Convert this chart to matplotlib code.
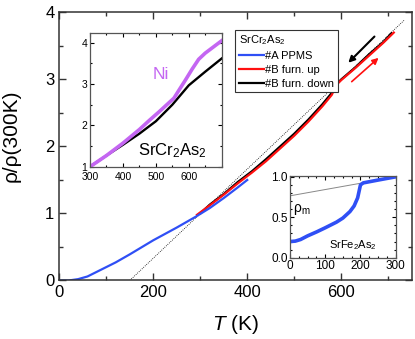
import numpy as np
import matplotlib
matplotlib.use('Agg')
import matplotlib.pyplot as plt
from matplotlib.ticker import MultipleLocator

plt.rcParams['font.family'] = ['Liberation Sans', 'DejaVu Sans']
plt.rcParams['mathtext.fontset'] = 'custom'
plt.rcParams['mathtext.rm'] = 'Liberation Sans'
plt.rcParams['mathtext.it'] = 'Liberation Sans:italic'
plt.rcParams['xtick.direction'] = 'in'
plt.rcParams['ytick.direction'] = 'in'

# main panel: rho/rho(300K) vs T
T_ppms = [0, 20, 40, 60, 80, 100, 120, 150, 200, 250, 290, 320, 350, 380, 400]
r_ppms = [0, 0.0, 0.02, 0.06, 0.13, 0.2, 0.27, 0.39, 0.6, 0.79, 0.95, 1.08, 1.23, 1.39, 1.5]

T_up = [293, 320, 350, 380, 410, 440, 470, 500, 530, 560, 580, 590, 600, 630, 660, 690, 712]
r_up = [0.98, 1.12, 1.28, 1.45, 1.61, 1.78, 1.97, 2.16, 2.37, 2.6, 2.77, 2.92, 2.99, 3.17, 3.36, 3.55, 3.7]

T_down = [300, 320, 350, 380, 410, 440, 470, 500, 530, 560, 580, 590, 600, 630, 660, 690, 707]
r_down = [1.0, 1.13, 1.29, 1.47, 1.63, 1.81, 2.0, 2.19, 2.4, 2.63, 2.8, 2.93, 3.0, 3.18, 3.38, 3.56, 3.69]

T_fit = [150, 735]
r_fit = [0, 3.89]

# inset: Ni vs SrCr2As2
T_ni = [300, 350, 400, 450, 480, 510, 540, 555, 570, 590, 610, 630, 650, 670, 700]
r_ni = [1.0, 1.27, 1.57, 1.9, 2.12, 2.33, 2.55, 2.66, 2.85, 3.1, 3.36, 3.6, 3.75, 3.87, 4.05]
T_cr = [300, 350, 400, 450, 500, 550, 600, 650, 700]
r_cr = [1.0, 1.27, 1.53, 1.8, 2.1, 2.5, 2.97, 3.3, 3.62]

# inset: SrFe2As2
T_fe = [0, 15, 30, 50, 76, 100, 132, 150, 170, 182, 192, 200, 208, 250, 300]
r_fe = [0.2, 0.205, 0.225, 0.27, 0.32, 0.37, 0.44, 0.49, 0.57, 0.64, 0.74, 0.9, 0.925, 0.96, 1.0]
T_fe_lin = [0, 300]
r_fe_lin = [0.765, 0.998]

fig = plt.figure(figsize=(4.15, 3.39), dpi=100)
ax = fig.add_axes([0.1429, 0.1726, 0.849, 0.7906])

ax.plot(T_fit, r_fit, color='black', lw=0.6, ls=(0, (1, 1.5)))
l_down, = ax.plot(T_down, r_down, color='black', lw=1.6, label='#B furn. down')
l_up, = ax.plot(T_up, r_up, color='#FF1010', lw=1.6, label='#B furn. up')
l_a, = ax.plot(T_ppms, r_ppms, color='#2F4FF5', lw=1.6, label='#A PPMS')

ax.annotate('', xy=(611, 3.22), xytext=(675, 3.67),
            arrowprops=dict(arrowstyle='-|>', color='black', lw=1.5, mutation_scale=9))
ax.annotate('', xy=(684, 3.35), xytext=(618, 2.94),
            arrowprops=dict(arrowstyle='-|>', color='#FF1010', lw=1.2, mutation_scale=9))

ax.set_xlim(0, 750)
ax.set_ylim(0, 4)
ax.xaxis.set_major_locator(MultipleLocator(200))
ax.xaxis.set_minor_locator(MultipleLocator(100))
ax.yaxis.set_major_locator(MultipleLocator(1))
ax.yaxis.set_minor_locator(MultipleLocator(0.5))
ax.tick_params(which='both', top=True, right=True, labelsize=12, width=1, color='#333333')
ax.tick_params(which='major', length=5)
ax.tick_params(which='minor', length=3)
for s in ax.spines.values():
    s.set_linewidth(1.1)
    s.set_color('#333333')
ax.set_xlabel('$T$ (K)', fontsize=15, labelpad=9)
ax.set_ylabel('ρ/ρ(300K)', fontsize=15)
ax.yaxis.set_label_coords(-0.11, 0.54)

leg = ax.legend(handles=[l_a, l_up, l_down], title='SrCr$_2$As$_2$', loc='upper left',
                bbox_to_anchor=(0.5, 0.935), fontsize=8, title_fontsize=8,
                frameon=True, fancybox=False, edgecolor='#333333', framealpha=1,
                borderpad=0.3, handlelength=2.3, handletextpad=0.1,
                labelspacing=0.35, borderaxespad=0)
leg._legend_box.align = 'left'
leg.get_frame().set_linewidth(0.8)

# inset 1
ax1 = fig.add_axes([0.2169, 0.5083, 0.3173, 0.3935])
ax1.plot(T_cr, r_cr, color='black', lw=1.7)
ax1.plot(T_ni, r_ni, color='#C466F2', lw=2.6)
ax1.text(516, 3.24, 'Ni', color='#C466F2', fontsize=12.5, ha='center', va='center')
ax1.text(446, 1.28, 'SrCr$_2$As$_2$', color='black', fontsize=12, ha='left', va='baseline')
ax1.set_xlim(300, 700)
ax1.set_ylim(1, 4.23)
ax1.set_xticks([300, 400, 500, 600])
ax1.set_yticks([1, 2, 3, 4])
ax1.xaxis.set_minor_locator(MultipleLocator(50))
ax1.yaxis.set_minor_locator(MultipleLocator(0.5))
ax1.tick_params(which='both', top=True, right=True, labelsize=7.5, width=0.8)
ax1.tick_params(axis='x', pad=3.5)
ax1.tick_params(axis='y', pad=2)
ax1.tick_params(which='major', length=3)
ax1.tick_params(which='minor', length=1.5)
for s in ax1.spines.values():
    s.set_linewidth(0.9)
    s.set_color('#555555')

# inset 2
ax2 = fig.add_axes([0.6988, 0.2398, 0.2547, 0.241])
ax2.plot(T_fe_lin, r_fe_lin, color='#888888', lw=0.7)
ax2.plot(T_fe, r_fe, color='#2F4FF5', lw=2.6)
ax2.text(8, 0.59, 'ρ$_\\mathrm{m}$', fontsize=10, ha='left', va='center')
ax2.text(180, 0.15, 'SrFe$_2$As$_2$', fontsize=8, ha='center', va='center')
ax2.set_xlim(0, 300)
ax2.set_ylim(0, 1.01)
ax2.set_xticks([0, 100, 200, 300])
ax2.set_yticks([0, 0.5, 1.0])
ax2.set_yticklabels(['0.0', '0.5', '1.0'])
ax2.xaxis.set_minor_locator(MultipleLocator(25))
ax2.yaxis.set_minor_locator(MultipleLocator(0.1))
ax2.tick_params(which='both', top=True, right=True, labelsize=8.5, width=0.8, pad=1.5)
ax2.tick_params(which='major', length=3)
ax2.tick_params(which='minor', length=1.5)
for s in ax2.spines.values():
    s.set_linewidth(0.9)
    s.set_color('#555555')

fig.savefig('out.png', dpi=100)
